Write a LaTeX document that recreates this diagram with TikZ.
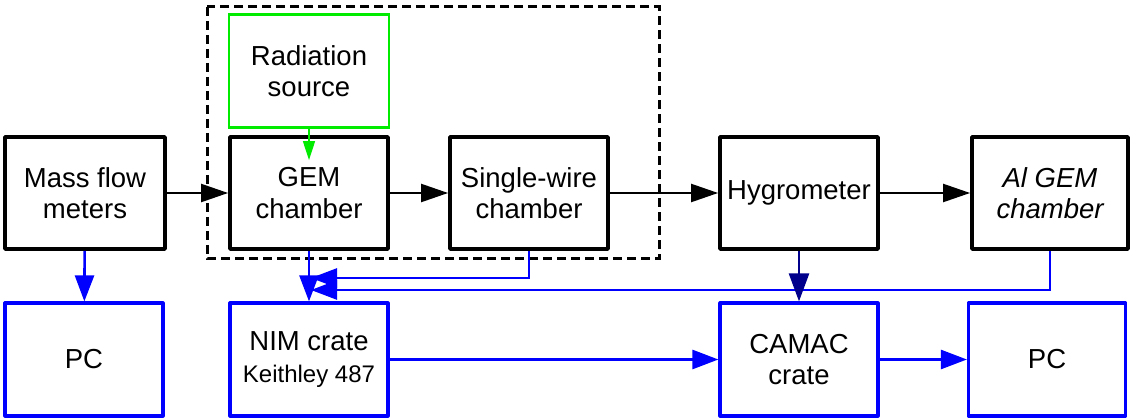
\documentclass[tikz,border=0pt]{standalone}
\usepackage{fontspec}
\setmainfont{Liberation Sans}
\usetikzlibrary{arrows.meta,calc}
\definecolor{pureblue}{RGB}{0,0,255}
\definecolor{darknavy}{RGB}{0,0,140}
\definecolor{puregreen}{RGB}{0,235,0}
\tikzset{
  lbl/.style={font=\fontsize{27.5}{31.5}\selectfont, align=center, inner sep=0pt},
  blackbox/.style={lbl, draw=black, line width=3.8pt, line join=round, minimum width=158pt, minimum height=112pt},
  bluebox/.style={lbl, draw=pureblue, line width=3.2pt, line join=round, minimum width=158pt, minimum height=113pt},
  greenbox/.style={lbl, draw=puregreen, line width=2.6pt, minimum width=160pt, minimum height=113pt},
  flow/.style={draw=black, line width=2.2pt, -{Triangle[length=27pt,width=18pt]}},
  sig/.style={draw=pureblue, line width=2.6pt, -{Triangle[length=26pt,width=19pt]}},
  navysig/.style={draw=darknavy, line width=2.6pt, -{Triangle[length=28pt,width=20pt]}},
  beam/.style={draw=puregreen, line width=1.4pt, -{Triangle[length=19pt,width=12pt]}},
  enclosure/.style={draw=black, line width=3pt, dash pattern=on 9pt off 5pt}
}
\begin{document}
\begin{tikzpicture}[x=1pt,y=-1pt]
\useasboundingbox (0,0) rectangle (1130,419);

% enclosure around the source and the two chambers
\draw[enclosure] (207,7) rectangle (659,259);

% upper row: gas line
\node[blackbox, minimum width=160pt] (mass) at (85,193) {Mass flow\\meters};
\node[blackbox] (gem) at (309,193) {GEM\\chamber};
\node[blackbox] (sw) at (529,193) {Single-wire\\chamber};
\node[blackbox] (hyg) at (799,193) {Hygrometer};
\node[blackbox, minimum width=156pt] (algem) at (1050,193) {\itshape Al GEM\\\itshape chamber};
\node[greenbox] (rad) at (309,71) {Radiation\\source};

% lower row: readout
\node[bluebox] (pc1) at (84,359.5) {PC};
\node[bluebox] (nim) at (309,359.5) {NIM crate\\{\fontsize{24}{29}\selectfont Keithley 487}};
\node[bluebox] (camac) at (799,359.5) {CAMAC\\crate};
\node[bluebox, minimum width=157pt] (pc2) at (1047,359.5) {PC};

% gas flow
\draw[flow] (mass) -- (gem);
\draw[flow] (gem) -- (sw);
\draw[flow] (sw) -- (hyg);
\draw[flow] (hyg) -- (algem);

% irradiation
\draw[beam] (rad.south) -- ($(gem.north)+(0,25)$);

% signal cabling
\coordinate (swjoin) at (311,278);
\coordinate (aljoin) at (311,290);
\draw[sig] (mass) -- (pc1);
\draw[sig] (gem.south) -- (nim.north);
\draw[sig] (sw.south) |- (swjoin);
\draw[sig] (algem.south) |- (aljoin);
\draw[navysig] (hyg) -- (camac);
\draw[sig] (nim) -- (camac);
\draw[sig] (camac) -- (pc2);
\end{tikzpicture}
\end{document}
